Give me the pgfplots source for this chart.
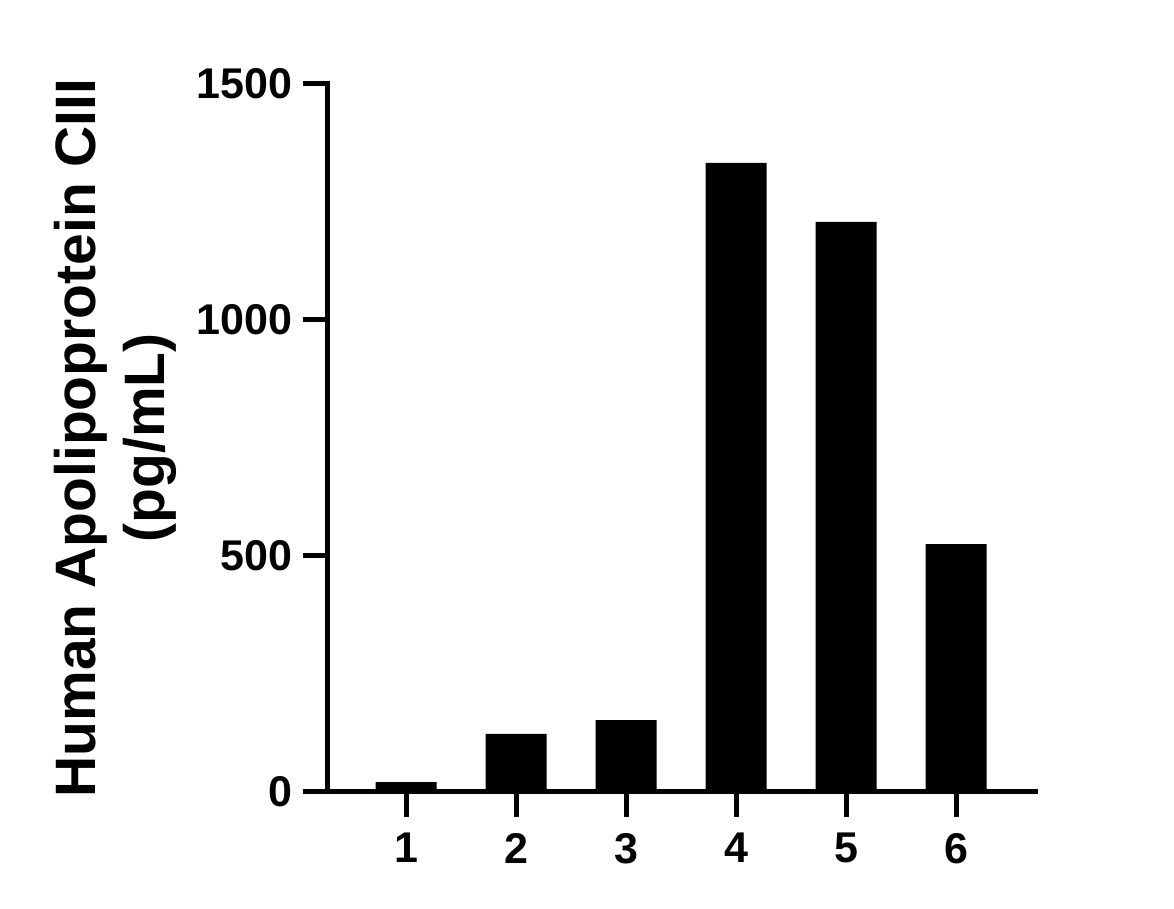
\documentclass[border=0pt]{standalone}
\usepackage{pgfplots}
\pgfplotsset{compat=1.18}
\usepackage{fontspec}
\setmainfont{Liberation Sans}
\begin{document}
\begin{tikzpicture}
\useasboundingbox (0,0) rectangle (587pt,454.5pt);
\begin{axis}[
  at={(164pt,58.5pt)}, anchor=south west,
  scale only axis, width=354pt, height=354pt,
  xmin=0.2909, xmax=6.727, ymin=0, ymax=1500,
  axis x line*=bottom, axis y line*=left,
  axis line style={line width=2.5pt, line cap=rect},
  every tick/.style={line width=2.5pt, black},
  tick align=outside, major tick length=12.5pt,
  xtick={1,2,3,4,5,6}, ytick={0,500,1000,1500},
  minor tick num=0,
  /pgf/number format/assume math mode=true,
  /pgf/number format/1000 sep={},
  tick label style={font=\bfseries\fontsize{21.5}{24}\selectfont},
  yticklabel style={inner sep=0pt, xshift=-5pt},
  xticklabel style={inner sep=0pt, yshift=-8pt},
  ylabel={Human Apolipoprotein CIII\\(pg/mL)},
  ylabel style={at={(axis description cs:-0.2133,0.5)}, anchor=south, inner sep=0pt, align=center,
    font=\bfseries\fontsize{28.5}{34.5}\selectfont},
  clip=false,
]
\addplot[ybar, bar width=30.5pt, fill=black, draw=none] coordinates {
  (1,21) (2,123) (3,152) (4,1333) (5,1208) (6,525)
};
\end{axis}
\end{tikzpicture}
\end{document}
